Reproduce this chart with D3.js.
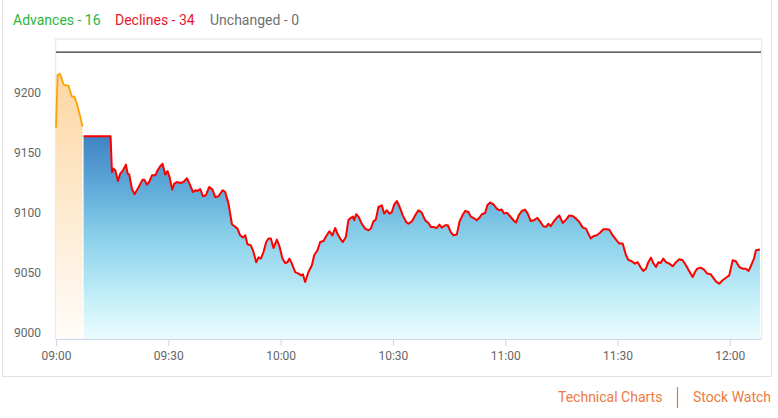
<!DOCTYPE html>
<html>
<head>
<meta charset="utf-8">
<script src="https://cdnjs.cloudflare.com/ajax/libs/d3/7.8.5/d3.min.js"></script>
<style>
  body { margin: 0; background: #fff; font-family: Roboto, "Liberation Sans", sans-serif; }
</style>
</head>
<body>
<script>
// data
var breadthLabels = ['Advances', 'Declines', 'Unchanged'];
var breadthCounts = [16, 34, 0];
var breadthColors = ['#2db53c', '#e8172e', '#707070'];

var linkLabels = ['Technical Charts', 'Stock Watch'];

var yTickValues = [9000, 9050, 9100, 9150, 9200];
var xTickLabels = ['09:00', '09:30', '10:00', '10:30', '11:00', '11:30', '12:00'];

var prevClose = 9234;

// pre-open session
var preTimes = ['09:00:00', '09:00:25', '09:01:00', '09:01:25', '09:02:00', '09:03:20',
  '09:03:50', '09:04:15', '09:04:55', '09:05:35', '09:06:30', '09:07:05'];
var preValues = [9171, 9215, 9216, 9213, 9207, 9206, 9201, 9197, 9197, 9191, 9180, 9172];

// normal session
var times = [
  '09:07:22', '09:14:35', '09:14:57', '09:15:23', '09:15:50', '09:16:33', '09:17:10', '09:17:53',
  '09:18:41', '09:19:07', '09:19:34', '09:20:18', '09:20:59', '09:21:47', '09:22:19', '09:23:07',
  '09:23:35', '09:24:18', '09:24:50', '09:25:38', '09:26:31', '09:27:08', '09:27:51', '09:28:28',
  '09:29:11', '09:29:48', '09:30:20', '09:31:03', '09:31:35', '09:32:18', '09:33:11', '09:34:04',
  '09:34:59', '09:35:40', '09:36:35', '09:37:16', '09:37:48', '09:38:32', '09:39:15', '09:40:03',
  '09:40:56', '09:41:49', '09:42:32', '09:43:25', '09:44:29', '09:45:12', '09:46:05', '09:47:00',
  '09:47:41', '09:48:29', '09:49:12', '09:49:56', '09:50:33', '09:51:09', '09:52:04', '09:52:46',
  '09:53:29', '09:54:06', '09:54:44', '09:55:26', '09:56:09', '09:56:46', '09:57:24', '09:58:06',
  '09:59:00', '09:59:42', '10:00:30', '10:01:13', '10:01:50', '10:02:22', '10:03:01', '10:03:54',
  '10:04:46', '10:05:30', '10:05:57', '10:06:34', '10:07:27', '10:08:21', '10:08:58', '10:09:51',
  '10:10:34', '10:11:27', '10:12:10', '10:13:03', '10:13:51', '10:14:34', '10:15:11', '10:15:55',
  '10:16:38', '10:17:26', '10:18:07', '10:18:46', '10:19:18', '10:19:39', '10:20:11', '10:20:48',
  '10:21:42', '10:22:35', '10:23:28', '10:24:06', '10:24:48', '10:25:26', '10:26:08', '10:27:03',
  '10:27:39', '10:28:23', '10:29:04', '10:29:43', '10:30:20', '10:31:03', '10:31:44', '10:32:39',
  '10:33:32', '10:34:09', '10:35:03', '10:35:56', '10:36:49', '10:37:43', '10:38:36', '10:39:29',
  '10:40:08', '10:40:49', '10:41:44', '10:42:25', '10:43:04', '10:43:57', '10:44:40', '10:45:28',
  '10:46:10', '10:47:04', '10:47:46', '10:48:40', '10:49:17', '10:50:10', '10:50:48', '10:51:30',
  '10:52:24', '10:53:06', '10:53:45', '10:54:38', '10:55:14', '10:55:58', '10:56:51', '10:57:45',
  '10:58:26', '10:59:05', '10:59:42', '11:00:25', '11:01:18', '11:02:11', '11:02:54', '11:03:37',
  '11:04:25', '11:05:18', '11:06:01', '11:06:50', '11:07:42', '11:08:35', '11:09:19', '11:10:11',
  '11:10:55', '11:11:32', '11:12:10', '11:12:52', '11:13:46', '11:14:27', '11:15:22', '11:16:15',
  '11:17:08', '11:18:02', '11:18:55', '11:19:48', '11:20:43', '11:21:35', '11:22:12', '11:22:51',
  '11:23:32', '11:24:27', '11:25:20', '11:26:13', '11:27:07', '11:27:49', '11:28:43', '11:29:36',
  '11:30:29', '11:31:23', '11:32:16', '11:32:53', '11:33:48', '11:34:40', '11:35:24', '11:36:12',
  '11:36:53', '11:37:37', '11:38:13', '11:38:57', '11:39:33', '11:40:17', '11:40:54', '11:41:32',
  '11:42:14', '11:42:57', '11:43:50', '11:44:44', '11:45:37', '11:46:30', '11:47:25', '11:48:17',
  '11:49:10', '11:50:05', '11:50:42', '11:51:18', '11:52:13', '11:53:06', '11:53:59', '11:54:53',
  '11:55:35', '11:56:18', '11:57:11', '11:58:05', '11:58:58', '11:59:51', '12:00:46', '12:01:38',
  '12:02:31', '12:03:26', '12:04:18', '12:05:02', '12:05:50', '12:06:27', '12:06:59', '12:08:03'
];
var values = [
  9164, 9164, 9134, 9137, 9135.6, 9126.7, 9132.8, 9135.6,
  9140.3, 9133, 9132, 9120, 9115.6, 9120, 9123, 9127.8,
  9127.8, 9123.7, 9125.6, 9131.4, 9131.4, 9135.6, 9139, 9141,
  9132, 9135, 9130, 9119.5, 9124.5, 9125.8, 9125, 9125.8,
  9129, 9124.5, 9117.5, 9119, 9118.3, 9120, 9114, 9114.8,
  9121.7, 9119.5, 9113.3, 9114, 9119, 9117.5, 9107.8, 9090.6,
  9089, 9087, 9081.4, 9079.5, 9081.4, 9074, 9073, 9067.5,
  9059, 9063, 9062, 9067.5, 9075.8, 9078.7, 9078.7, 9070.8,
  9077.8, 9072.2, 9062, 9058.3, 9059, 9062, 9057.8, 9050.8,
  9049.5, 9048, 9049, 9042.5, 9050.8, 9056.4, 9064.8, 9069,
  9075.8, 9076.7, 9080.6, 9084.8, 9081.4, 9087.5, 9082.8, 9078.7,
  9075.8, 9080, 9094, 9096, 9097, 9094, 9099, 9097,
  9091, 9087, 9085.6, 9087, 9093, 9094.5, 9105, 9106.4,
  9099.5, 9102.3, 9099.5, 9100.8, 9107, 9110, 9105.6, 9098,
  9092.5, 9091, 9093, 9098, 9102.3, 9100.3, 9094, 9091.7,
  9088.3, 9088.3, 9087.5, 9090.3, 9087.8, 9089.8, 9089.8, 9084,
  9081.4, 9082, 9092.5, 9098.6, 9101.7, 9100.8, 9097, 9096,
  9094, 9096, 9099, 9100, 9106.4, 9108.7, 9107.3, 9103.7,
  9102.3, 9103, 9099.5, 9100.3, 9097.3, 9094, 9092, 9098,
  9101.7, 9102.8, 9099.5, 9093.3, 9094, 9096, 9093, 9089,
  9088.5, 9091, 9089, 9092.5, 9096, 9098, 9091.7, 9094.5,
  9098, 9097.5, 9095.3, 9092.5, 9087.8, 9087, 9082.8, 9078.7,
  9080.6, 9081.4, 9083.6, 9086.4, 9086.4, 9086, 9081.4, 9077.8,
  9074.5, 9074.5, 9064.8, 9061, 9059.8, 9057.8, 9059, 9054.5,
  9051.7, 9053.6, 9059, 9062.8, 9058.3, 9055, 9059, 9058.3,
  9062, 9059, 9057.8, 9055.6, 9059, 9061.4, 9060.6, 9056.4,
  9051.4, 9046.7, 9050.8, 9053.6, 9054.5, 9052.8, 9049.5, 9049,
  9046, 9043, 9041, 9044, 9046, 9048, 9060.6, 9059.8,
  9055, 9053.6, 9053.6, 9051.7, 9057.3, 9062, 9069, 9069.5
];

// ----------------------------------------------------------------------------
// setup
var parseTime = d3.timeParse('%H:%M:%S');
var parseTick = d3.timeParse('%H:%M');

var preData = preTimes.map(function ( t, i ) {
  return { time: parseTime( t ), value: preValues[i] };
});
var mainData = times.map(function ( t, i ) {
  return { time: parseTime( t ), value: values[i] };
});

var plotLeft = 56, plotRight = 761, plotTop = 39, plotBottom = 339;

var x = d3.scaleTime()
  .domain( [parseTime('09:00:00'), parseTime('12:08:20')] )
  .range( [plotLeft, plotRight] );

var y = d3.scaleLinear()
  .domain( [8995, 9245] )
  .range( [plotBottom, plotTop] );

var svg = d3.select('body').append('svg')
  .attr( 'width', 778 )
  .attr( 'height', 418 );

var defs = svg.append('defs');

var blueGrad = defs.append('linearGradient')
  .attr( 'id', 'blueGrad' )
  .attr( 'gradientUnits', 'userSpaceOnUse' )
  .attr( 'x1', 0 ).attr( 'x2', 0 )
  .attr( 'y1', y( d3.max( values ) ) - 10 )
  .attr( 'y2', plotBottom );
[[0, '#3a7cc0'], [0.3, '#60acda'], [0.5, '#86cde9'], [0.8, '#c2eef8'], [1, '#ecfcfe']]
  .forEach(function ( s ) {
    blueGrad.append('stop').attr( 'offset', s[0] ).attr( 'stop-color', s[1] );
  });

var orangeGrad = defs.append('linearGradient')
  .attr( 'id', 'orangeGrad' )
  .attr( 'gradientUnits', 'userSpaceOnUse' )
  .attr( 'x1', 0 ).attr( 'x2', 0 )
  .attr( 'y1', y( d3.max( preValues ) ) )
  .attr( 'y2', plotBottom );
[[0, '#fdd6a2'], [0.5, '#feeacf'], [1, '#fffcf9']]
  .forEach(function ( s ) {
    orangeGrad.append('stop').attr( 'offset', s[0] ).attr( 'stop-color', s[1] );
  });

// ----------------------------------------------------------------------------
// panel
svg.append('rect')
  .attr( 'x', 2.5 ).attr( 'y', -1 )
  .attr( 'width', 769 ).attr( 'height', 377.5 )
  .style( 'fill', 'none' )
  .style( 'stroke', '#e3e3e3' );

// header
var header = svg.append('text')
  .attr( 'y', 25 )
  .style( 'font-size', '14px' );

header.selectAll('tspan')
  .data( breadthLabels )
  .enter()
  .append('tspan')
  .attr( 'x', function ( d, i ) { return [13, 115, 210][i]; } )
  .style( 'fill', function ( d, i ) { return breadthColors[i]; } )
  .text(function ( d, i ) { return d + ' - ' + breadthCounts[i]; });

// plot frame
svg.append('rect')
  .attr( 'x', plotLeft - 0.5 ).attr( 'y', plotTop )
  .attr( 'width', plotRight - plotLeft + 1 ).attr( 'height', plotBottom - plotTop )
  .style( 'fill', '#fff' )
  .style( 'stroke', '#ececec' )
  .style( 'stroke-width', 1.5 );

// ----------------------------------------------------------------------------
// areas and lines
var area = d3.area()
  .x(function ( d ) { return x( d.time ); })
  .y0( plotBottom )
  .y1(function ( d ) { return y( d.value ); });

var line = d3.line()
  .x(function ( d ) { return x( d.time ); })
  .y(function ( d ) { return y( d.value ); });

svg.append('path')
  .datum( preData )
  .attr( 'd', area )
  .style( 'fill', 'url(#orangeGrad)' );

svg.append('path')
  .datum( mainData )
  .attr( 'd', area )
  .style( 'fill', 'url(#blueGrad)' );

svg.append('path')
  .datum( preData )
  .attr( 'd', line )
  .style( 'fill', 'none' )
  .style( 'stroke', '#ffa200' )
  .style( 'stroke-width', 1.8 );

svg.append('path')
  .datum( mainData )
  .attr( 'd', line )
  .style( 'fill', 'none' )
  .style( 'stroke', '#ff0000' )
  .style( 'stroke-width', 2 )
  .style( 'stroke-linejoin', 'round' );

// previous close line
svg.append('line')
  .attr( 'x1', plotLeft ).attr( 'x2', plotRight )
  .attr( 'y1', y( prevClose ) ).attr( 'y2', y( prevClose ) )
  .style( 'stroke', '#333' )
  .style( 'stroke-width', 1.2 );

// ----------------------------------------------------------------------------
// axes
var xAxis = d3.axisBottom( x )
  .tickValues( xTickLabels.map(function ( t ) { return parseTick( t ); }) )
  .tickFormat( d3.timeFormat('%H:%M') )
  .tickSize( 7 )
  .tickSizeOuter( 0 );

var gx = svg.append('g')
  .attr( 'transform', 'translate(0,' + plotBottom + ')' )
  .call( xAxis );
gx.select('.domain').style( 'stroke', '#ccd6eb' ).attr( 'd', 'M' + plotLeft + ',0.5H' + plotRight );
gx.selectAll('.tick line').style( 'stroke', '#ccd6eb' );
gx.selectAll('.tick text')
  .attr( 'y', 12 )
  .style( 'font-family', 'Roboto, sans-serif' )
  .style( 'font-size', '12px' )
  .style( 'fill', '#666' );

var yAxis = d3.axisLeft( y )
  .tickValues( yTickValues )
  .tickFormat( d3.format('d') )
  .tickSize( 0 )
  .tickPadding( 15 );

var gy = svg.append('g')
  .attr( 'transform', 'translate(' + plotLeft + ',0)' )
  .call( yAxis );
gy.select('.domain').remove();
gy.selectAll('.tick text')
  .style( 'font-family', 'Roboto, sans-serif' )
  .style( 'font-size', '12px' )
  .style( 'fill', '#666' );

// ----------------------------------------------------------------------------
// footer links
svg.selectAll('.link')
  .data( linkLabels )
  .enter()
  .append('text')
  .attr( 'class', 'link' )
  .attr( 'x', function ( d, i ) { return [558, 693][i]; } )
  .attr( 'y', 402 )
  .style( 'font-size', '14px' )
  .style( 'fill', '#ec7a42' )
  .text(function ( d ) { return d; });

svg.append('line')
  .attr( 'x1', 677.5 ).attr( 'x2', 677.5 )
  .attr( 'y1', 387 ).attr( 'y2', 408 )
  .style( 'stroke', '#e07a40' )
  .style( 'stroke-width', 1.2 );
</script>
</body>
</html>
